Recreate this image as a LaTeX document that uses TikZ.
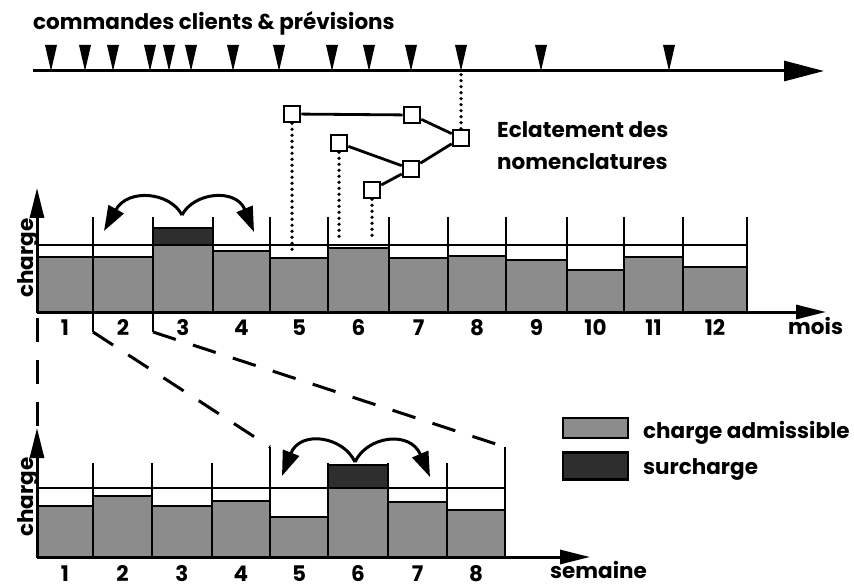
\documentclass[tikz,border=0pt]{standalone}
\usepackage{fontspec}
\setmainfont{Poppins}
\usetikzlibrary{arrows.meta, positioning}

\begin{document}
\begin{tikzpicture}[
    x=1pt, y=-1pt,
    every node/.style={font=\bfseries\fontsize{21.5}{24}\selectfont, inner sep=0pt},
    axe/.style={line width=3pt, -{Triangle[length=30pt, width=14pt]}},
    grandaxe/.style={line width=3pt, -{Triangle[length=40pt, width=20pt]}},
    trait/.style={line width=2.8pt},
    admis/.style={fill=black!45, draw=black, line width=2.6pt},
    surch/.style={fill=black!82, draw=black, line width=2.6pt},
    noeud/.style={rectangle, draw, line width=2.6pt, minimum size=16pt, fill=white},
    pointill/.style={line width=3.6pt, dash pattern=on 0pt off 6pt, line cap=round},
    tirets/.style={line width=3pt, dash pattern=on 24pt off 18pt},
    fleche/.style={line width=3pt, -{Triangle[length=25pt, width=17pt]}}
]
\useasboundingbox (0,0) rectangle (854,588);

% Axe du temps
\coordinate (t0) at (33,71);
\coordinate (t1) at (824,71);
\draw[grandaxe] (t0) -- (t1);
\foreach \x in {51,85,113,150,169,191,233,279,332,369,411,461,541,669} {
    \fill (\x-6,45) -- (\x+6,45) -- (\x,71) -- cycle;
}
\node[anchor=base west] (cmd) at (33,30) {commandes clients \& prévisions};

% Nomenclature
\node[noeud] (a) at (292,114) {};
\node[noeud] (b) at (412,115) {};
\node[noeud] (c) at (461,138) {};
\node[noeud] (d) at (339,143) {};
\node[noeud] (e) at (411,169) {};
\node[noeud] (f) at (372,190) {};
\draw[trait] (a) -- (b);
\draw[trait] (b) -- (c);
\draw[trait] (d) -- (e);
\draw[trait] (e) -- (c);
\draw[trait] (f) -- (e);
\coordinate (pa) at (292,250);
\coordinate (pd) at (339,242);
\coordinate (pf) at (372,240);
\draw[pointill] (c.north) -- (c |- t0);
\draw[pointill] (a.south) -- (pa);
\draw[pointill] (d.south) -- (pd);
\draw[pointill] (f.south) -- (pf);
\node[anchor=base west] (ecl1) at (497,138) {Eclatement des};
\node[anchor=base west] (ecl2) at (497,170) {nomenclatures};

% Charge par mois
\foreach \i/\g/\d/\h in {1/37/93/257, 2/93/153/257, 3/153/213/245, 4/213/270/251,
    5/270/328/258, 6/328/389/248, 7/389/448/258, 8/448/506/256,
    9/506/567/260, 10/567/624/270, 11/624/683/257, 12/683/747/267} {
    \draw[admis] (\g,\h) rectangle (\d,312);
    \node[anchor=base] (m\i) at ({(\g+\d)/2},335) {\i};
}
\draw[surch] (153,228) rectangle (213,245);
\draw[trait] (37,245) -- (747,245);
\foreach \x in {93,153,213,270,328,389,448,506,567,624,683,747} {
    \draw[trait] (\x,217) -- (\x,312);
}
\draw[axe] (37,312) -- (826,312);
\draw[axe] (37,312) -- (37,188);
\node[anchor=base west] (mois) at (788,334) {mois};
\node[rotate=90, anchor=base] (ch1) at (33,258) {charge};
\draw[fleche] (182,215) .. controls (170,192) and (128,188) .. (104,231);
\draw[fleche] (182,215) .. controls (194,192) and (236,188) .. (254,232);

% Zoom sur les mois 1 et 2
\draw[tirets] (37,318) -- (37,428);
\draw[trait] (93,312) -- (93,332);
\draw[tirets] (93,332) -- (270,447);
\draw[trait] (153,312) -- (153,332);
\draw[tirets] (153,332) -- (505,447);

% Charge par semaine
\foreach \i/\g/\d/\h in {1/37/93/506, 2/93/152/496, 3/152/212/506, 4/212/270/501,
    5/270/328/517, 6/328/388/488, 7/388/447/502, 8/447/505/510} {
    \draw[admis] (\g,\h) rectangle (\d,557);
    \node[anchor=base] (s\i) at ({(\g+\d)/2},581) {\i};
}
\draw[surch] (328,465) rectangle (388,488);
\draw[trait] (37,488) -- (505,488);
\foreach \x in {93,152,212,328,388,447} {
    \draw[trait] (\x,463) -- (\x,557);
}
\draw[trait] (270,447) -- (270,557);
\draw[trait] (505,447) -- (505,557);
\draw[axe] (37,557) -- (590,557);
\draw[axe] (37,557) -- (37,428);
\node[anchor=base west] (sem) at (550,578) {semaine};
\node[rotate=90, anchor=base] (ch2) at (33,497) {charge};
\draw[fleche] (355,462) .. controls (343,436) and (300,430) .. (282,476);
\draw[fleche] (355,462) .. controls (367,436) and (410,430) .. (430,477);

% Legende
\node[admis, minimum width=65pt, minimum height=20pt] (legA) at (595.5,428) {};
\node[surch, minimum width=65pt, minimum height=27pt] (legS) at (595.5,466) {};
\node[anchor=base west] (txtA) at (643,438) {charge admissible};
\node[anchor=base west] (txtS) at (643,474) {surcharge};

\end{tikzpicture}
\end{document}
